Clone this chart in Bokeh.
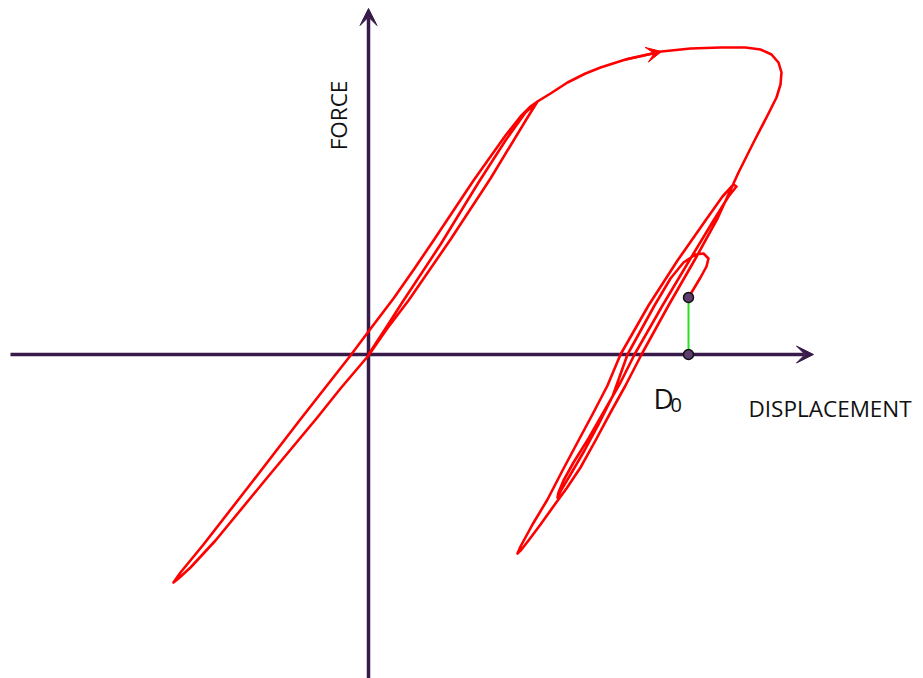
import math

from bokeh.plotting import figure
from bokeh.models import Arrow, VeeHead, Label, Range1d
from bokeh.embed import file_html
from bokeh.resources import INLINE

# ---- load path, branch by branch (displacement, force) ----
virgin_disp = [0.0, 1.7, 3.5, 7.2, 11.0, 13.7, 15.7, 16.9]
virgin_force = [0.0, 2.6, 5.4, 11.0, 17.2, 21.4, 24.2, 25.3]

unload1_disp = [15.9, 12.2, 8.2, 4.0, 1.8, 0.0, -2.8, -5.2, -10.2, -15.3, -17.8, -19.0, -19.5]
unload1_force = [23.7, 17.6, 11.5, 5.4, 2.5, -0.1, -3.4, -6.4, -12.4, -18.6, -21.3, -22.4, -22.8]

reload1_disp = [-18.8, -16.5, -11.6, -6.9, -1.8, 0.3, 2.5, 4.6, 6.5, 10.5, 13.7, 15.2, 16.2, 16.9]
reload1_force = [-21.8, -19.0, -12.7, -6.6, -0.1, 2.7, 5.6, 8.6, 11.4, 17.4, 21.9, 23.8, 24.8, 25.3]

yield_disp = [18.2, 19.9, 21.7, 23.2, 25.7, 29.3, 32.2, 35.2, 37.7, 39.2, 40.3, 41.0,
              41.3, 41.2, 40.8, 40.0, 38.5, 37.0]
yield_force = [26.1, 27.2, 28.1, 28.7, 29.5, 30.3, 30.6, 30.7, 30.7, 30.5, 30.0, 29.2,
               28.2, 27.0, 25.7, 24.1, 21.2, 18.2]

unload2_disp = [34.9, 32.7, 30.0, 27.3, 25.7, 24.2, 22.7, 21.2, 19.8, 18.7, 17.2, 16.0, 15.3, 14.9]
unload2_force = [13.6, 9.6, 4.9, 0.0, -3.1, -5.8, -8.6, -11.3, -13.4, -14.9, -17.0, -18.6, -19.5, -19.9]

reload2_disp = [15.2, 16.4, 17.9, 19.4, 21.0, 22.5, 23.9, 25.2, 28.0, 30.9, 33.7, 35.4, 36.5]
reload2_force = [-19.2, -17.0, -14.5, -11.6, -8.6, -5.8, -3.1, 0.0, 4.9, 9.4, 13.4, 15.8, 17.0]

unload3_disp = [36.8, 36.0, 34.5, 32.2, 29.4, 26.6, 25.2, 23.6, 22.0, 20.5, 19.5, 19.0, 18.9]
unload3_force = [16.8, 15.8, 13.4, 9.6, 4.9, 0.0, -2.8, -5.6, -8.4, -10.8, -12.6, -13.8, -14.3]

reload3_disp = [19.3, 20.2, 21.6, 23.0, 24.4, 25.9, 28.6, 30.2, 31.5, 32.7, 33.5, 34.0,
                33.8, 33.2, 32.6, 32.0]
reload3_force = [-13.5, -12.0, -9.6, -7.0, -4.2, 0.0, 4.9, 7.6, 9.2, 10.0, 10.1, 9.6,
                 8.8, 7.7, 6.7, 5.7]

# axis extents
axis_disp = [-35.8, 44.5]
axis_force = [-32.4, 34.6]

path_disp = (virgin_disp + unload1_disp + reload1_disp + yield_disp
             + unload2_disp + reload2_disp + unload3_disp + reload3_disp)
path_force = (virgin_force + unload1_force + reload1_force + yield_force
              + unload2_force + reload2_force + unload3_force + reload3_force)

# residual displacement at the end of the record
d0 = path_disp[-1]
f_end = path_force[-1]

AXIS_COL = "#381a4b"
RED = "#ff0000"

p = figure(width=923, height=678,
           x_range=Range1d(-36.8, 55.5), y_range=Range1d(-32.4, 35.4),
           x_axis_location=None, y_axis_location=None,
           output_backend="svg", toolbar_location=None, min_border=0)
p.grid.visible = False
p.outline_line_color = None
p.background_fill_color = "white"
p.border_fill_color = "white"

# axes as arrows, under the curve
h_axis = Arrow(end=VeeHead(size=17, fill_color=AXIS_COL, line_color=AXIS_COL, line_width=1),
               x_start=axis_disp[0], y_start=0, x_end=axis_disp[1], y_end=0,
               line_color=AXIS_COL, line_width=3.5, level="underlay")
v_axis = Arrow(end=VeeHead(size=17, fill_color=AXIS_COL, line_color=AXIS_COL, line_width=1),
               x_start=0, y_start=axis_force[0], x_end=0, y_end=axis_force[1],
               line_color=AXIS_COL, line_width=3.5, level="underlay")
p.add_layout(h_axis)
p.add_layout(v_axis)

# hysteresis curve
p.line(path_disp, path_force, line_color=RED, line_width=2.6, line_join="round", line_cap="round")

# direction arrow on the yield plateau
i = len(virgin_disp) + len(unload1_disp) + len(reload1_disp) + 4
p.add_layout(Arrow(end=VeeHead(size=15, fill_color=RED, line_color=RED, line_width=1),
                   x_start=path_disp[i], y_start=path_force[i],
                   x_end=path_disp[i + 1], y_end=path_force[i + 1],
                   line_color=RED, line_width=2.6))

# residual force at D0
p.segment([d0], [0], [d0], [f_end], line_color="#22e022", line_width=2)
p.scatter([d0, d0], [0, f_end], size=10, fill_color="#5e3d6e", line_color="#111111", line_width=1.5)

FONT = "Open Sans"
p.add_layout(Label(x=-3.0, y=23.9, text="FORCE", angle=math.pi / 2, text_font=FONT,
                   text_font_size="22.5px", text_color="#111111",
                   text_align="center", text_baseline="middle"))
p.add_layout(Label(x=38.0, y=-5.4, text="DISPLACEMENT", text_font=FONT,
                   text_font_size="22.5px", text_color="#111111",
                   text_align="left", text_baseline="alphabetic"))
p.add_layout(Label(x=28.5, y=-4.3, text="D", text_font=FONT,
                   text_font_size="28px", text_color="#111111",
                   text_align="left", text_baseline="alphabetic"))
p.add_layout(Label(x=30.2, y=-5.0, text="0", text_font=FONT,
                   text_font_size="20px", text_color="#111111",
                   text_align="left", text_baseline="alphabetic"))

open("out.html", "w").write(file_html(p, INLINE))
